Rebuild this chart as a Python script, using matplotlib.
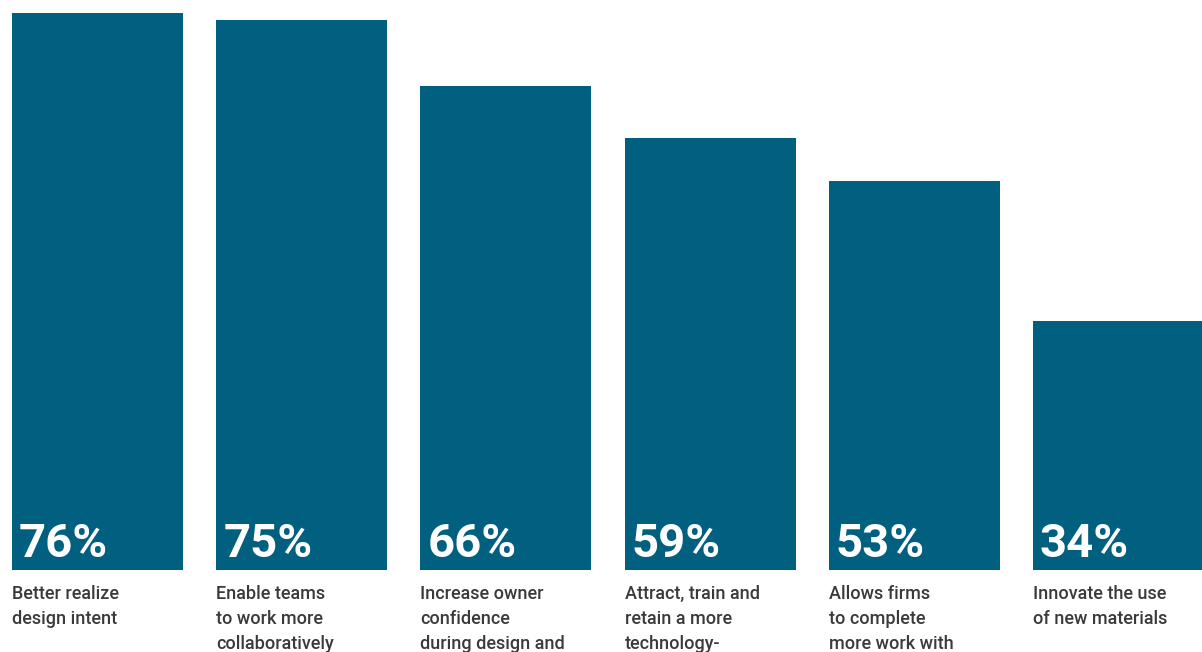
import numpy as np
import matplotlib.pyplot as plt

# survey values (%) and labels
categories = [
    "Better realize\ndesign intent",
    "Enable teams\nto work more\ncollaboratively",
    "Increase owner\nconfidence\nduring design and",
    "Attract, train and\nretain a more\ntechnology-",
    "Allows firms\nto complete\nmore work with",
    "Innovate the use\nof new materials",
]
values = [76, 75, 66, 59, 53, 34]

bar_color = "#01607f"
text_color = "#3a3a3a"

fig = plt.figure(figsize=(12.02, 6.52), dpi=100)
ax = fig.add_axes([0, 0, 1, 1])

x = np.arange(len(values))
width = 0.837
ax.bar(x, values, width=width, color=bar_color, align="center")

ax.set_xlim(-0.4775, 5.409)
ax.set_ylim(-11.19, 77.76)
ax.axis("off")

for xi, v, lab in zip(x, values, categories):
    left = xi - width / 2
    ax.annotate(f"{v}%", xy=(left, 0), xytext=(5, 3), textcoords="offset points",
                ha="left", va="bottom", color="white", fontsize=34,
                fontweight="bold", family=["Roboto", "DejaVu Sans"])
    ax.annotate(lab, xy=(left, 0), xytext=(0, -11), textcoords="offset points",
                ha="left", va="top", color=text_color, fontsize=13,
                fontweight="medium", linespacing=1.5,
                family=["Roboto", "DejaVu Sans"], annotation_clip=False)

plt.savefig("out.png", dpi=100)
